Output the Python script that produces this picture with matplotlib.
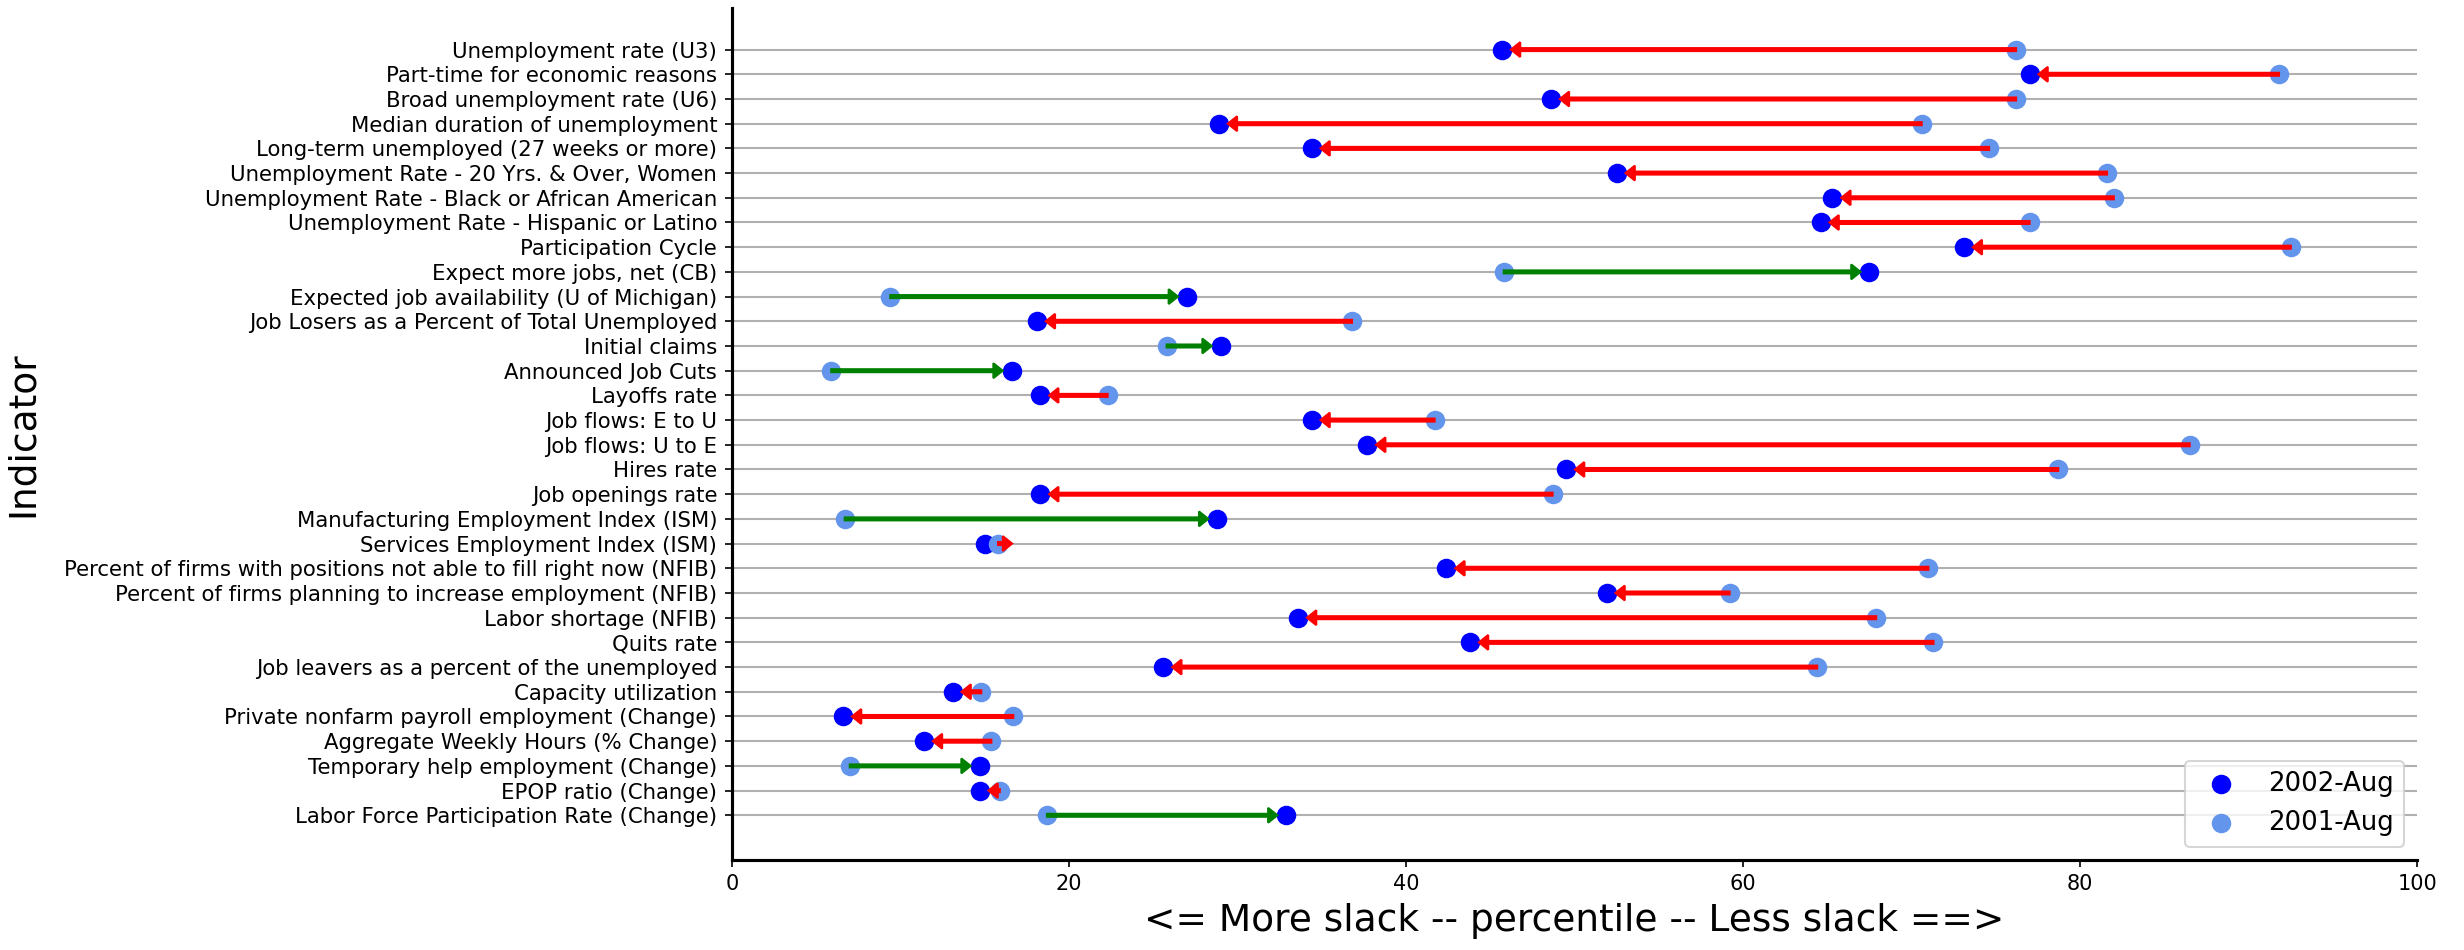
import matplotlib
matplotlib.use("Agg")
import matplotlib.pyplot as plt
import numpy as np

indicators = [
    "Unemployment rate (U3)",
    "Part-time for economic reasons",
    "Broad unemployment rate (U6)",
    "Median duration of unemployment",
    "Long-term unemployed (27 weeks or more)",
    "Unemployment Rate - 20 Yrs. & Over, Women",
    "Unemployment Rate - Black or African American",
    "Unemployment Rate - Hispanic or Latino",
    "Participation Cycle",
    "Expect more jobs, net (CB)",
    "Expected job availability (U of Michigan)",
    "Job Losers as a Percent of Total Unemployed",
    "Initial claims",
    "Announced Job Cuts",
    "Layoffs rate",
    "Job flows: E to U",
    "Job flows: U to E",
    "Hires rate",
    "Job openings rate",
    "Manufacturing Employment Index (ISM)",
    "Services Employment Index (ISM)",
    "Percent of firms with positions not able to fill right now (NFIB)",
    "Percent of firms planning to increase employment (NFIB)",
    "Labor shortage (NFIB)",
    "Quits rate",
    "Job leavers as a percent of the unemployed",
    "Capacity utilization",
    "Private nonfarm payroll employment (Change)",
    "Aggregate Weekly Hours (% Change)",
    "Temporary help employment (Change)",
    "EPOP ratio (Change)",
    "Labor Force Participation Rate (Change)",
]

pct_2002 = [45.7, 77.0, 48.6, 28.9, 34.4, 52.5, 65.3, 64.6, 73.1, 67.5,
            27.0, 18.1, 29.0, 16.6, 18.3, 34.4, 37.7, 49.5, 18.3, 28.8,
            15.0, 42.4, 51.9, 33.6, 43.8, 25.6, 13.1, 6.6, 11.4, 14.7,
            14.7, 32.9]
pct_2001 = [76.2, 91.8, 76.2, 70.6, 74.6, 81.6, 82.0, 77.0, 92.5, 45.8,
            9.4, 36.8, 25.8, 5.9, 22.3, 41.7, 86.5, 78.7, 48.7, 6.7,
            15.8, 71.0, 59.2, 67.9, 71.3, 64.4, 14.8, 16.7, 15.4, 7.0,
            15.9, 18.7]

label_new = "2002-Aug"
label_old = "2001-Aug"

fig = plt.figure(figsize=(2464 / 150, 950 / 150), dpi=150)
ax = fig.add_axes([0.297, 0.095, 0.684, 0.897])

n = len(indicators)
ypos = np.arange(n)[::-1]

ax.set_axisbelow(True)
ax.grid(axis="y", color="#b0b0b0", lw=1.0)

ax.scatter(pct_2002, ypos, color="blue", s=70, zorder=3, label=label_new)
ax.scatter(pct_2001, ypos, color="cornflowerblue", s=70, zorder=3, label=label_old)

shrink = 1.08
hl = 0.55
for y, a, b in zip(ypos, pct_2001, pct_2002):
    d = b - a
    sgn = 1 if d > 0 else -1
    col = "green" if d > 0 else "red"
    dx = d - sgn * shrink
    ax.arrow(a, y, dx, 0, width=0.12, head_width=0.6, head_length=hl,
             length_includes_head=False, color=col, zorder=4)

ax.set_yticks(ypos)
ax.set_yticklabels(indicators, fontsize=10.2)
ax.set_xlim(0, 100)
ax.set_ylim(-1.8, n - 1 + 1.7)
ax.set_xticks([0, 20, 40, 60, 80, 100])
ax.tick_params(axis="x", labelsize=10)
ax.set_xlabel("<= More slack -- percentile -- Less slack ==>", fontsize=18)
ax.set_ylabel("Indicator", fontsize=18)
ax.yaxis.set_label_coords(-0.41, 0.5)

for s in ["top", "right"]:
    ax.spines[s].set_visible(False)
for s in ["left", "bottom"]:
    ax.spines[s].set_linewidth(1.5)

ax.legend(loc="lower right", fontsize=12.5)

fig.savefig("out.png", dpi=150)
